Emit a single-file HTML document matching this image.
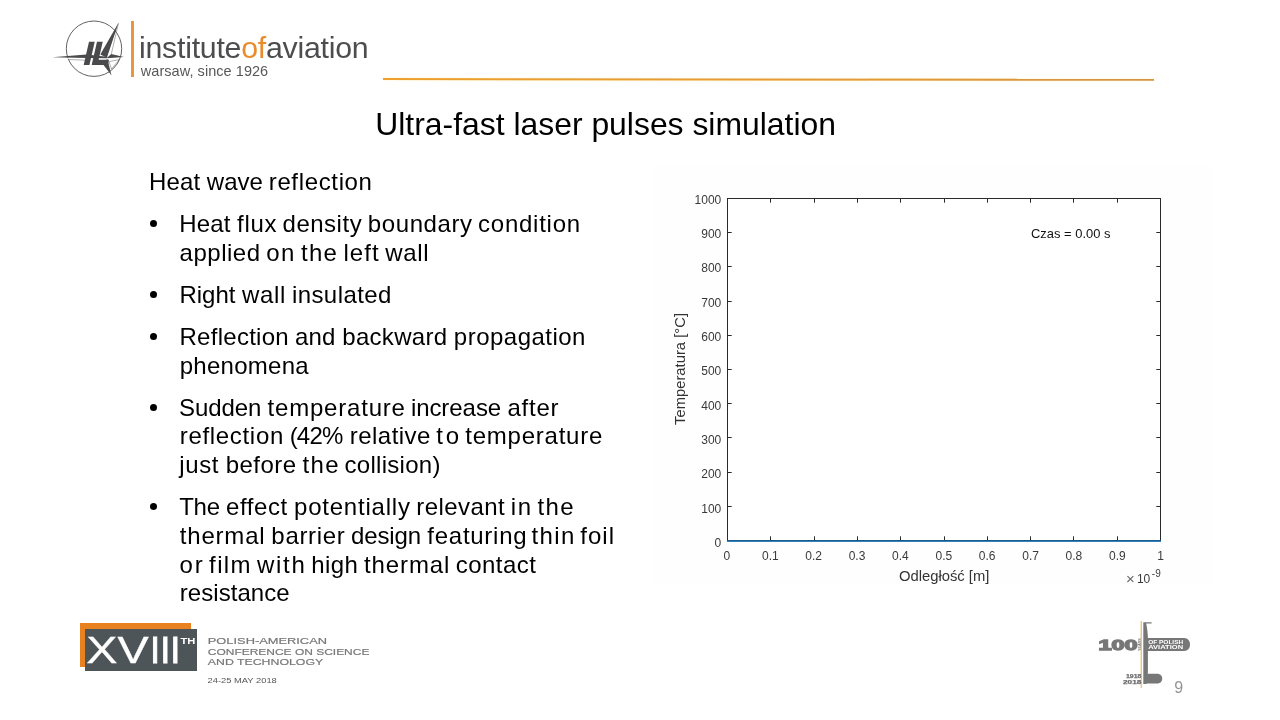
<!DOCTYPE html>
<html lang="en">
<head>
<meta charset="utf-8">
<title>Ultra-fast laser pulses simulation</title>
<style>
  html, body { margin: 0; padding: 0; background: #ffffff; }
  body { width: 1280px; height: 720px; overflow: hidden; position: relative;
         font-family: "Liberation Sans", sans-serif; color: #000; }
  .abs { position: absolute; white-space: nowrap; line-height: 1; }
  #slide { position: absolute; left: 0; top: 0; width: 1280px; height: 720px; overflow: hidden; background: #fff; will-change: transform; }

  /* header logo */
  #emblem { position: absolute; left: 40px; top: 10px; width: 100px; height: 80px; }
  #obar { position: absolute; left: 131.2px; top: 21px; width: 2.6px; height: 55.6px; background: #e9963c; }
  #ioa { left: 139px; top: 33px; font-size: 30.3px; color: #4d4d4f; letter-spacing: -0.25px; }
  #ioa b { font-weight: normal; color: #ea8b2c; }
  #wars { left: 140.8px; top: 63.9px; font-size: 14.5px; color: #58585a; letter-spacing: 0.05px; }

  /* top rule */
  #rule { position: absolute; left: 383px; top: 77.6px; width: 771px; height: 2.2px; background: linear-gradient(90deg,#eda02c,#e09a3a 70%,#d29445); transform: rotate(0.06deg); transform-origin: left center; box-shadow: 0 0 1.5px rgba(255,230,150,.9); }

  #title { left: 375.2px; top: 108.5px; font-size: 31.9px; color: #000; }

  /* body text */
  .t { position: absolute; left: 0; white-space: nowrap; font-size: 24px; line-height: 28px; height: 28px; color: #000; }
  .bul { position: absolute; width: 7px; height: 7px; border-radius: 50%; background: #000; left: 150.2px; }

  /* footer left */
  #obox { position: absolute; left: 80px; top: 623px; width: 111.4px; height: 44.4px; background: #e8811f; }
  #gbox { position: absolute; left: 85px; top: 629px; width: 112px; height: 41.6px; background: #4e5558; }
  #pageno { left: 1174.2px; top: 679.6px; font-size: 16px; color: #949494; }
</style>
</head>
<body>
<div id="slide">

  <!-- ===== header logo ===== -->
  <svg id="emblem" viewBox="40 10 100 80" font-family="'Liberation Sans', sans-serif">
    <circle cx="94" cy="48.7" r="27.7" fill="none" stroke="#505052" stroke-width="0.9"/>
    <g transform="translate(50 18) scale(0.088889)" fill="#4a4a4c" stroke="none">
      <!-- white gap under the horizontal arm to cut the circle -->
      <path d="M150 452 L640 456 L640 463 L150 461 Z" fill="#ffffff"/>
      <!-- left arm -->
      <path d="M25 441 L410 412 L640 436 L640 452 L410 451 Z"/>
      <path d="M205 467 L392 474" stroke="#4a4a4c" stroke-width="5" fill="none"/>
      <!-- right arm -->
      <path d="M636 452 L688 404 L832 440 Z"/>
      <!-- up arm -->
      <path d="M772 52 L566 412 L640 446 Z"/>
      <path d="M770 60 L690 404" stroke="#4a4a4c" stroke-width="5" fill="none"/>
      <!-- down arm -->
      <path d="M588 508 L646 462 L692 648 Z"/>
      <path d="M664 492 L782 466 L692 574 Z" stroke="#4a4a4c" stroke-width="5" fill="none"/>
      <text transform="translate(386 513) skewX(-3)" font-size="350" font-weight="bold" font-style="italic" stroke="#4a4a4c" stroke-width="20" textLength="282" lengthAdjust="spacingAndGlyphs">IL</text>
    </g>
  </svg>
  <div id="obar"></div>
  <div id="ioa" class="abs">institute<b>of</b>aviation</div>
  <div id="wars" class="abs">warsaw, since 1926</div>

  <div id="rule"></div>
  <div id="title" class="abs">Ultra-fast laser pulses simulation</div>

  <!-- ===== body text ===== -->
  <div class="t" id="L0" style="top:168px"><span style="margin-left:149.05px;letter-spacing:0.14px">Heat</span> <span style="margin-left:-0.13px;letter-spacing:-0.02px">wave</span> <span style="margin-left:-0.76px;letter-spacing:0.65px">reflection</span></div>
  <div class="bul" style="top:219.8px"></div>
  <div class="t" id="L1" style="top:210px"><span style="margin-left:179.25px;letter-spacing:0.19px">Heat</span> <span style="margin-left:-0.44px;letter-spacing:0.76px">flux</span> <span style="margin-left:-1.49px;letter-spacing:0.51px">density</span> <span style="margin-left:-0.97px;letter-spacing:0.59px">boundary</span> <span style="margin-left:-1.34px;letter-spacing:0.76px">condition</span></div>
  <div class="t" id="L2" style="top:239px"><span style="margin-left:179.50px;letter-spacing:0.53px">applied</span> <span style="margin-left:-0.96px;letter-spacing:1.40px">on</span> <span style="margin-left:-1.61px;letter-spacing:1.35px">the</span> <span style="margin-left:-1.54px;letter-spacing:1.06px">left</span> <span style="margin-left:-1.26px;letter-spacing:0.66px">wall</span></div>
  <div class="bul" style="top:290.8px"></div>
  <div class="t" id="L3" style="top:281px"><span style="margin-left:179.50px;letter-spacing:-0.04px">Right</span> <span style="margin-left:0.08px;letter-spacing:0.67px">wall</span> <span style="margin-left:-0.86px;letter-spacing:0.42px">insulated</span></div>
  <div class="bul" style="top:332.8px"></div>
  <div class="t" id="L4" style="top:323px"><span style="margin-left:179.50px;letter-spacing:0.27px">Reflection</span> <span style="margin-left:-0.69px;letter-spacing:0.25px">and</span> <span style="margin-left:-0.18px;letter-spacing:0.31px">backward</span> <span style="margin-left:-0.25px;letter-spacing:0.48px">propagation</span></div>
  <div class="t" id="L5" style="top:352px"><span style="margin-left:179.75px;letter-spacing:0.26px">phenomena</span></div>
  <div class="bul" style="top:403.8px"></div>
  <div class="t" id="L6" style="top:394px"><span style="margin-left:179.00px;letter-spacing:-0.09px">Sudden</span> <span style="margin-left:-0.39px;letter-spacing:0.80px">temperature</span> <span style="margin-left:-1.53px;letter-spacing:-0.06px">increase</span> <span style="margin-left:-0.43px;letter-spacing:0.79px">after</span></div>
  <div class="t" id="L7" style="top:422px"><span style="margin-left:179.75px;letter-spacing:0.68px">reflection</span> <span style="margin-left:-0.93px;letter-spacing:-0.81px">(42%</span> <span style="margin-left:0.56px;letter-spacing:0.48px">relative</span> <span style="margin-left:-1.25px;letter-spacing:2.77px">to</span> <span style="margin-left:-3.25px;letter-spacing:0.76px">temperature</span></div>
  <div class="t" id="L8" style="top:451px"><span style="margin-left:179.25px;letter-spacing:0.62px">just</span> <span style="margin-left:-0.09px;letter-spacing:0.49px">before</span> <span style="margin-left:-0.97px;letter-spacing:1.43px">the</span> <span style="margin-left:-2.16px;letter-spacing:0.28px">collision)</span></div>
  <div class="bul" style="top:502.8px"></div>
  <div class="t" id="L9" style="top:493px"><span style="margin-left:179.25px;letter-spacing:-0.29px">The</span> <span style="margin-left:-0.42px;letter-spacing:0.60px">effect</span> <span style="margin-left:-0.54px;letter-spacing:0.78px">potentially</span> <span style="margin-left:-1.03px;letter-spacing:0.41px">relevant</span> <span style="margin-left:-0.85px;letter-spacing:1.58px">in</span> <span style="margin-left:-1.80px;letter-spacing:1.33px">the</span></div>
  <div class="t" id="L10" style="top:522px"><span style="margin-left:179.75px;letter-spacing:0.81px">thermal</span> <span style="margin-left:-0.79px;letter-spacing:0.69px">barrier</span> <span style="margin-left:-1.19px;letter-spacing:-0.12px">design</span> <span style="margin-left:-0.38px;letter-spacing:0.73px">featuring</span> <span style="margin-left:-2.46px;letter-spacing:1.40px">thin</span> <span style="margin-left:-2.17px;letter-spacing:0.99px">foil</span></div>
  <div class="t" id="L11" style="top:551px"><span style="margin-left:179.50px;letter-spacing:1.81px">or</span> <span style="margin-left:-2.04px;letter-spacing:1.37px">film</span> <span style="margin-left:-1.60px;letter-spacing:1.71px">with</span> <span style="margin-left:-1.94px;letter-spacing:0.37px">high</span> <span style="margin-left:-0.84px;letter-spacing:0.91px">thermal</span> <span style="margin-left:-1.36px;letter-spacing:0.49px">contact</span></div>
  <div class="t" id="L12" style="top:579px"><span style="margin-left:179.75px;letter-spacing:0.06px">resistance</span></div>

  <!-- ===== chart ===== -->
  <svg id="chart" class="abs" style="left:640px;top:160px" width="600" height="440" viewBox="640 160 600 440" font-family="'Liberation Sans', sans-serif">
    <rect x="653" y="166.5" width="559.5" height="418.5" fill="#fefefe"/>
    <rect x="727.5" y="198.5" width="433.0" height="342.0" fill="#ffffff" stroke="#2a2a2a" stroke-width="1"/>
    <path d="M727.5 540.5 v-4.2 M727.5 198.5 v4.2 M727.5 540.5 h4.2 M1160.5 540.5 h-4.2 M770.5 540.5 v-4.2 M770.5 198.5 v4.2 M727.5 506.5 h4.2 M1160.5 506.5 h-4.2 M814.5 540.5 v-4.2 M814.5 198.5 v4.2 M727.5 472.5 h4.2 M1160.5 472.5 h-4.2 M857.5 540.5 v-4.2 M857.5 198.5 v4.2 M727.5 437.5 h4.2 M1160.5 437.5 h-4.2 M900.5 540.5 v-4.2 M900.5 198.5 v4.2 M727.5 403.5 h4.2 M1160.5 403.5 h-4.2 M944.5 540.5 v-4.2 M944.5 198.5 v4.2 M727.5 369.5 h4.2 M1160.5 369.5 h-4.2 M987.5 540.5 v-4.2 M987.5 198.5 v4.2 M727.5 335.5 h4.2 M1160.5 335.5 h-4.2 M1030.5 540.5 v-4.2 M1030.5 198.5 v4.2 M727.5 301.5 h4.2 M1160.5 301.5 h-4.2 M1073.5 540.5 v-4.2 M1073.5 198.5 v4.2 M727.5 266.5 h4.2 M1160.5 266.5 h-4.2 M1117.5 540.5 v-4.2 M1117.5 198.5 v4.2 M727.5 232.5 h4.2 M1160.5 232.5 h-4.2 M1160.5 540.5 v-4.2 M1160.5 198.5 v4.2 M727.5 198.5 h4.2 M1160.5 198.5 h-4.2" stroke="#2a2a2a" stroke-width="1" fill="none"/>
    <g font-size="12" fill="#3a3a3a" text-anchor="middle">
      <text x="726.9" y="559.8">0</text>
      <text x="770.3" y="559.8">0.1</text>
      <text x="813.7" y="559.8">0.2</text>
      <text x="857.0" y="559.8">0.3</text>
      <text x="900.4" y="559.8">0.4</text>
      <text x="943.8" y="559.8">0.5</text>
      <text x="987.2" y="559.8">0.6</text>
      <text x="1030.6" y="559.8">0.7</text>
      <text x="1073.9" y="559.8">0.8</text>
      <text x="1117.3" y="559.8">0.9</text>
      <text x="1160.7" y="559.8">1</text>
    </g>
    <g font-size="12" fill="#3a3a3a" text-anchor="end">
      <text x="721.3" y="546.8">0</text>
      <text x="721.3" y="512.5">100</text>
      <text x="721.3" y="478.2">200</text>
      <text x="721.3" y="443.9">300</text>
      <text x="721.3" y="409.6">400</text>
      <text x="721.3" y="375.2">500</text>
      <text x="721.3" y="340.9">600</text>
      <text x="721.3" y="306.6">700</text>
      <text x="721.3" y="272.3">800</text>
      <text x="721.3" y="238.0">900</text>
      <text x="721.3" y="203.7">1000</text>
    </g>
    <text x="944.2" y="580.8" font-size="14.8" fill="#333333" text-anchor="middle">Odległość [m]</text>
    <text transform="translate(684.9 369) rotate(-90)" font-size="14.8" fill="#333333" text-anchor="middle">Temperatura [°C]</text>
    <text x="1031" y="237.6" font-size="12.95" fill="#111111">Czas = 0.00 s</text>
    <text x="1126" y="584.4" font-size="12" fill="#3a3a3a"><tspan fill="#666666" font-size="15">×</tspan><tspan x="1136.9" y="582.7">10</tspan><tspan dy="-6" dx="1.6" font-size="10">-9</tspan></text>
    <path d="M727 540.5 H1161" stroke="#1b5b8c" stroke-width="1" fill="none"/>
    <path d="M727 541.5 H1161" stroke="#3580b8" stroke-width="1" fill="none"/>
  </svg>

  <!-- ===== footer left: conference logo ===== -->
  <div id="obox"></div>
  <div id="gbox"></div>
  <svg class="abs" style="left:80px;top:620px" width="300" height="70" viewBox="80 620 300 70" font-family="'Liberation Sans', sans-serif">
    <text y="663.1" font-size="36.6" fill="#ffffff" stroke="#ffffff"><tspan x="86.3" stroke-width="0.3" textLength="62.4" lengthAdjust="spacingAndGlyphs">XV</tspan><tspan x="150.1" stroke-width="0.8" textLength="30.4" lengthAdjust="spacing">III</tspan></text>
    <text x="180.4" y="643.8" font-size="8.8" font-weight="bold" fill="#ffffff" textLength="14.9" lengthAdjust="spacingAndGlyphs">TH</text>
    <g fill="#787878" font-size="9.9" stroke="#787878" stroke-width="0.2">
      <text x="207.8" y="644.1" textLength="119.2" lengthAdjust="spacingAndGlyphs">POLISH-AMERICAN</text>
      <text x="207.8" y="654.5" textLength="161.6" lengthAdjust="spacingAndGlyphs">CONFERENCE ON SCIENCE</text>
      <text x="207.8" y="664.8" textLength="115.4" lengthAdjust="spacingAndGlyphs">AND TECHNOLOGY</text>
    </g>
    <text x="207.6" y="683.1" font-size="6.7" fill="#555555" textLength="69.2" lengthAdjust="spacingAndGlyphs">24-25 MAY 2018</text>
  </svg>

  <!-- ===== footer right: 100 years logo ===== -->
  <svg class="abs" style="left:1090px;top:615px" width="110" height="80" viewBox="1090 615 110 80" font-family="'Liberation Sans', sans-serif">
    <path d="M1141.2 621 V687.8" stroke="#e8a235" stroke-width="0.9" fill="none"/>
    <!-- fuselage -->
    <path d="M1143.3 622.2 H1151.6 V623.4 H1146.2 C1147.3 629 1147.9 634 1147.9 638 V673.7 H1147.2 L1146.6 683.9 H1143.3 Z" fill="#777777"/>
    <!-- wing -->
    <path d="M1146.5 638 H1184 C1188 638 1190 641 1190 644.5 C1190 648 1188 650.9 1184 650.9 H1146.5 Z" fill="#777777"/>
    <!-- tail -->
    <path d="M1146 673.7 H1157 C1160.5 673.7 1162.2 676 1162.2 678.6 C1162.2 681.4 1160.5 683.6 1157 683.6 H1146 Z" fill="#777777"/>
    <text x="1098.4" y="650.0" font-size="14.7" font-weight="bold" fill="#777777" stroke="#777777" stroke-width="1.3" textLength="39.2" lengthAdjust="spacingAndGlyphs">100</text>
    <text transform="translate(1140.6 651) rotate(-90)" font-size="3.3" font-weight="bold" fill="#777777" textLength="12.6" lengthAdjust="spacingAndGlyphs">YEARS</text>
    <g fill="#ffffff" font-weight="bold" font-size="4.7">
      <text x="1148.2" y="643.9" textLength="35" lengthAdjust="spacingAndGlyphs">OF POLISH</text>
      <text x="1148.2" y="649.1" textLength="35" lengthAdjust="spacingAndGlyphs">AVIATION</text>
    </g>
    <g fill="#6e6e6e" font-weight="bold" font-size="5.3" stroke="#6e6e6e" stroke-width="0.25">
      <text x="1126" y="678" textLength="15.4" lengthAdjust="spacingAndGlyphs">1918</text>
      <text x="1123" y="683.6" textLength="18.4" lengthAdjust="spacingAndGlyphs">2018</text>
    </g>
  </svg>
  <div id="pageno" class="abs">9</div>

</div>
</body>
</html>
